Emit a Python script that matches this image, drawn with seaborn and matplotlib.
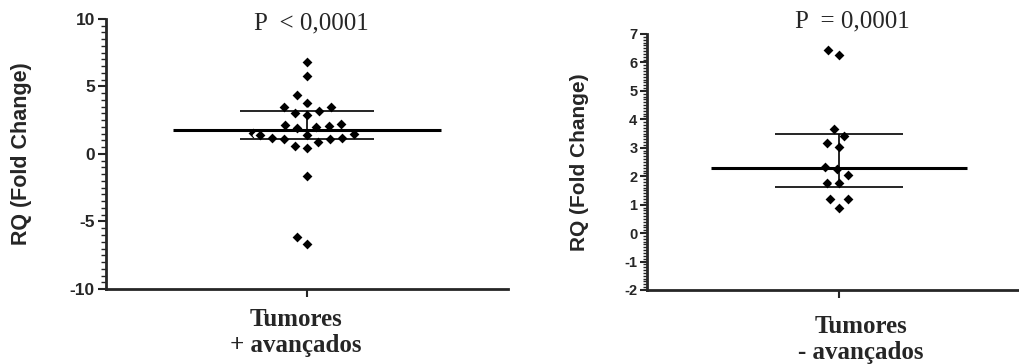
import numpy as np
import pandas as pd
import seaborn as sns
import matplotlib.pyplot as plt
import matplotlib.transforms as mtransforms
from matplotlib.ticker import MultipleLocator

# RQ values
rq_mais = [6.78, 5.81, 4.33, 3.80, 3.50, 3.46, 3.20, 3.01, 2.89, 2.20, 2.15, 2.10,
           2.02, 1.95, 1.53, 1.48, 1.41, 1.41, 1.21, 1.16, 1.09, 1.09, 0.89, 0.59,
           0.44, -1.63, -6.17, -6.69]
rq_menos = [6.45, 6.25, 3.65, 3.42, 3.16, 3.04, 2.33, 2.26, 2.05, 1.77, 1.75,
            1.20, 1.20, 0.90]
labels = ['Tumores\n+ avançados', 'Tumores\n- avançados']
p_texts = ['P  < 0,0001', 'P  = 0,0001']
y_limits = [(-10, 10), (-2, 7)]
y_major = [5, 1]
y_minor = [0.5, 0.1]

sns.set_style('ticks')
plt.rcParams['font.family'] = ['Liberation Sans', 'DejaVu Sans']
plt.rcParams['axes.unicode_minus'] = False

fig = plt.figure(figsize=(10.19, 3.64), dpi=100)
ax1 = fig.add_axes([0.104, 0.206, 0.3945, 0.742])
ax2 = fig.add_axes([0.635, 0.2033, 0.377, 0.7033])

# per-panel layout tweaks
tick_size = [12.5, 10.5]
ylab_size = [15.5, 15]
ylab_x = [-0.184, -0.151]
xlab_pad = [8, 12]
xlab_shift = [-11, 22]   # px, GraphPad puts the label a bit off the tick
p_pos = [(0.03, 0.985), (0.10, 1.05)]

panels = [(ax1, rq_mais), (ax2, rq_menos)]
for i, (ax, vals) in enumerate(panels):
    df = pd.DataFrame({'grupo': labels[i], 'RQ': vals})
    # white edge widens the swarm spacing while keeping the diamonds small
    sns.swarmplot(data=df, x='grupo', y='RQ', ax=ax, marker='D', color='black',
                  size=6.8, linewidth=1.8, edgecolor='white', zorder=2)

    # median and interquartile range (GraphPad style quartiles)
    q1, med, q3 = np.percentile(vals, [25, 50, 75], method='weibull')
    ax.hlines(med, -1.0, 1.0, color='black', lw=2.2, zorder=3)
    ax.hlines([q1, q3], -0.5, 0.5, color='black', lw=1.2, zorder=3)
    ax.vlines(0, q1, q3, color='black', lw=1.2, zorder=3)

    ax.set_xlim(-1.5, 1.5)
    ax.set_ylim(*y_limits[i])
    ax.yaxis.set_major_locator(MultipleLocator(y_major[i]))
    ax.yaxis.set_minor_locator(MultipleLocator(y_minor[i]))
    ax.tick_params(axis='y', which='major', length=6 if i == 0 else 5, width=1.5,
                   labelsize=tick_size[i], pad=2)
    ax.tick_params(axis='y', which='minor', length=3.5 if i == 0 else 3, width=1)
    ax.tick_params(axis='x', which='major', length=6, width=1.5,
                   labelsize=18, pad=xlab_pad[i])
    for lab in ax.get_yticklabels():
        lab.set_fontweight('bold')
    shift = mtransforms.ScaledTranslation(xlab_shift[i] / 100, 0, fig.dpi_scale_trans)
    for lab in ax.get_xticklabels():
        lab.set_fontfamily(['Liberation Serif'])
        lab.set_fontweight('bold')
        lab.set_linespacing(1.15)
        lab.set_transform(lab.get_transform() + shift)

    ax.set_xlabel('')
    ax.set_ylabel('RQ (Fold Change)', fontsize=ylab_size[i], fontweight='bold')
    ax.yaxis.set_label_coords(ylab_x[i], 0.5)
    sns.despine(ax=ax)
    for side in ['left', 'bottom']:
        ax.spines[side].set_linewidth(2)

    ax.text(p_pos[i][0], p_pos[i][1], p_texts[i], transform=ax.get_xaxis_transform(),
            ha='center', va='center', fontsize=18, family=['Liberation Serif'])

fig.savefig('out.png', dpi=100)
